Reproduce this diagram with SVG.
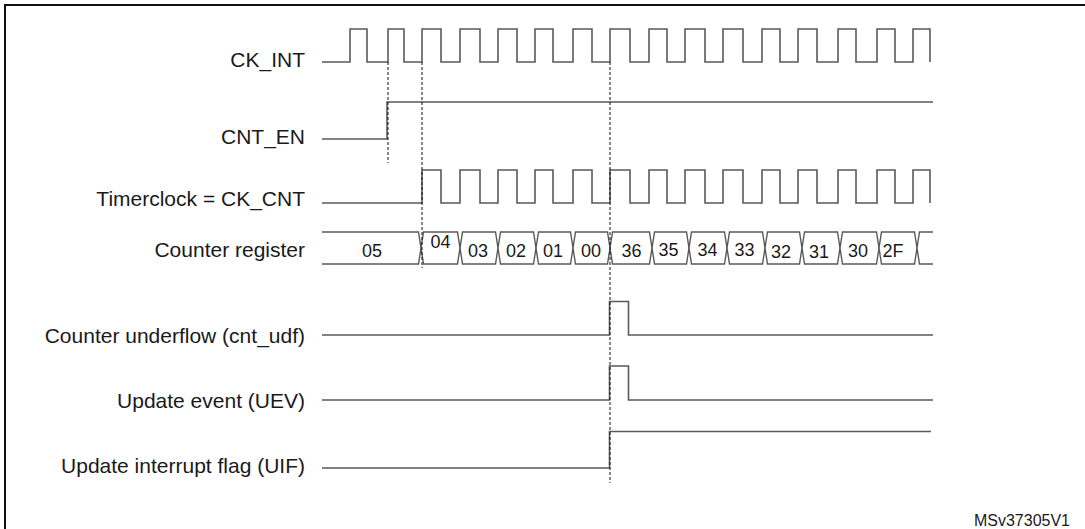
<svg xmlns="http://www.w3.org/2000/svg" width="1085" height="529" viewBox="0 0 1085 529">
<style>
.bg{fill:#ffffff}
.frame{fill:none;stroke:#111;stroke-width:2}
.sig{fill:none;stroke:#5a5a5a;stroke-width:1.6;stroke-linejoin:miter}
.bus{fill:#ffffff;stroke:#5a5a5a;stroke-width:1.4;stroke-linejoin:miter}
.dash{fill:none;stroke:#111;stroke-width:1;stroke-dasharray:3,2}
.lbl{font-family:"Liberation Sans",Arial,sans-serif;font-size:21px;fill:#1a1a1a;text-anchor:end}
.val{font-family:"Liberation Sans",Arial,sans-serif;font-size:18px;fill:#1a1a1a;text-anchor:middle}
.ref{font-family:"Liberation Sans",Arial,sans-serif;font-size:16px;fill:#1a1a1a;text-anchor:end}
</style>
<rect class="bg" x="0" y="0" width="1085" height="529"/>
<path class="frame" d="M5,529 V5 H1085"/>

<g id="ck_int">
<text class="lbl" x="305" y="67">CK_INT</text>
<path class="sig" d="M322,62 H350 V29 H367 V62 H388 V29 H404 V62 H422 V29 H441 V62 H460 V29 H480 V62 H498 V29 H517 V62 H535 V29 H553 V62 H573 V29 H592 V62 H610 V29 H630 V62 H649 V29 H667 V62 H685 V29 H705 V62 H723 V29 H743 V62 H762 V29 H780 V62 H798 V29 H817 V62 H838 V29 H856 V62 H877 V29 H895 V62 H913 V29 H930 V62"/>
</g>

<g id="cnt_en">
<text class="lbl" x="305" y="144">CNT_EN</text>
<path class="sig" d="M322,139 H387 V102 H933"/>
</g>

<g id="ck_cnt">
<text class="lbl" x="305" y="206">Timerclock = CK_CNT</text>
<path class="sig" d="M322,203 H422 V170 H441 V203 H460 V170 H480 V203 H498 V170 H517 V203 H535 V170 H553 V203 H573 V170 H592 V203 H610 V170 H630 V203 H649 V170 H667 V203 H685 V170 H705 V203 H723 V170 H743 V203 H762 V170 H780 V203 H798 V170 H817 V203 H838 V170 H856 V203 H877 V170 H895 V203 H913 V170 H930 V203"/>
</g>

<g id="counter_register">
<text class="lbl" x="305" y="257">Counter register</text>
<path class="bus" d="M322,232 H418.5 L421,248 L418.5,264 H322"/>
<polygon class="bus" points="423.5,232 457.5,232 460,248 457.5,264 423.5,264 421,248"/>
<polygon class="bus" points="462.5,232 495.5,232 498,248 495.5,264 462.5,264 460,248"/>
<polygon class="bus" points="500.5,232 533.5,232 536,248 533.5,264 500.5,264 498,248"/>
<polygon class="bus" points="538.5,232 570.5,232 573,248 570.5,264 538.5,264 536,248"/>
<polygon class="bus" points="575.5,232 607.5,232 610,248 607.5,264 575.5,264 573,248"/>
<polygon class="bus" points="612.5,232 649.5,232 652,248 649.5,264 612.5,264 610,248"/>
<polygon class="bus" points="654.5,232 686.5,232 689,248 686.5,264 654.5,264 652,248"/>
<polygon class="bus" points="691.5,232 724.5,232 727,248 724.5,264 691.5,264 689,248"/>
<polygon class="bus" points="729.5,232 762.5,232 765,248 762.5,264 729.5,264 727,248"/>
<polygon class="bus" points="767.5,232 799.5,232 802,248 799.5,264 767.5,264 765,248"/>
<polygon class="bus" points="804.5,232 837.5,232 840,248 837.5,264 804.5,264 802,248"/>
<polygon class="bus" points="842.5,232 876.5,232 879,248 876.5,264 842.5,264 840,248"/>
<polygon class="bus" points="881.5,232 914.5,232 917,248 914.5,264 881.5,264 879,248"/>
<path class="bus" d="M933,232 H919.5 L917,248 L919.5,264 H933"/>
<text class="val" x="372" y="256.5">05</text>
<text class="val" x="440.5" y="247.5">04</text>
<text class="val" x="478" y="256.5">03</text>
<text class="val" x="516" y="256.5">02</text>
<text class="val" x="553" y="256.5">01</text>
<text class="val" x="591" y="256.5">00</text>
<text class="val" x="631.5" y="256.5">36</text>
<text class="val" x="668.5" y="256">35</text>
<text class="val" x="707.5" y="256">34</text>
<text class="val" x="744.5" y="256">33</text>
<text class="val" x="781" y="258">32</text>
<text class="val" x="819" y="258">31</text>
<text class="val" x="858" y="256.5">30</text>
<text class="val" x="893" y="256.5">2F</text>
</g>

<g id="cnt_udf">
<text class="lbl" x="305" y="343">Counter underflow (cnt_udf)</text>
<path class="sig" d="M322,335 H609.5 V301.5 H628.5 V335 H933"/>
</g>

<g id="uev">
<text class="lbl" x="305" y="408">Update event (UEV)</text>
<path class="sig" d="M322,400 H609.5 V366 H628.5 V400 H933"/>
</g>

<g id="uif">
<text class="lbl" x="305" y="473">Update interrupt flag (UIF)</text>
<path class="sig" d="M322,468 H609.5 V431.5 H931"/>
</g>

<g id="connectors">
<line class="dash" x1="388" y1="62" x2="388" y2="163"/>
<line class="dash" x1="422" y1="62" x2="422" y2="268"/>
<line class="dash" x1="610" y1="62" x2="610" y2="483"/>
</g>

<text class="ref" x="1070" y="525.5">MSv37305V1</text>
</svg>
